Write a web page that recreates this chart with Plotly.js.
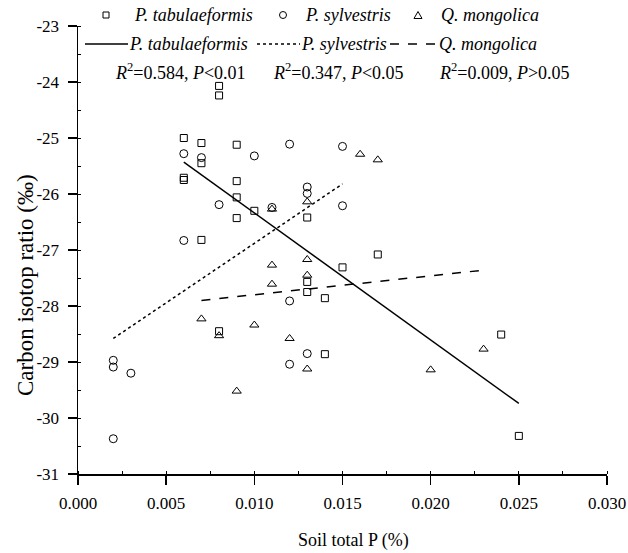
<!DOCTYPE html>
<html>
<head>
<meta charset="utf-8">
<script src="https://cdn.plot.ly/plotly-3.0.1.min.js"></script>
<style>html,body{margin:0;padding:0;background:#fff;}#chart{width:628px;height:553px;}</style>
</head>
<body>
<div id="chart"></div>
<script>
// P. tabulaeformis (squares)
const ptX = [0.006,0.007,0.009,0.007,0.006,0.006,0.009,0.009,0.010,0.009,0.013,0.007,0.013,0.013,0.014,0.008,0.008,0.017,0.015,0.008,0.014,0.024,0.025];
const ptY = [-25.00,-25.09,-25.12,-25.45,-25.71,-25.75,-25.77,-26.06,-26.30,-26.43,-26.42,-26.82,-27.57,-27.75,-27.86,-24.07,-24.24,-27.08,-27.31,-28.45,-28.86,-28.51,-30.32];
// P. sylvestris (circles)
const psX = [0.006,0.007,0.010,0.012,0.013,0.013,0.008,0.011,0.006,0.012,0.015,0.015,0.013,0.012,0.002,0.002,0.003,0.002];
const psY = [-25.28,-25.35,-25.32,-25.11,-25.875,-25.99,-26.19,-26.24,-26.83,-27.91,-25.15,-26.21,-28.85,-29.04,-28.97,-29.09,-29.20,-30.37];
// Q. mongolica (triangles)
const qmX = [0.011,0.013,0.011,0.013,0.013,0.011,0.016,0.017,0.007,0.008,0.010,0.012,0.013,0.009,0.023,0.020];
const qmY = [-26.27,-26.14,-27.27,-27.17,-27.45,-27.61,-25.29,-25.39,-28.23,-28.53,-28.34,-28.58,-29.125,-29.52,-28.77,-29.14];
// fitted lines (endpoints)
const ptFitX = [0.006, 0.025], ptFitY = [-25.43, -29.74];
const psFitX = [0.002, 0.015], psFitY = [-28.58, -25.82];
const qmFitX = [0.007, 0.023], qmFitY = [-27.90, -27.36];
// labels
const seriesNames = ['<i>P. tabulaeformis</i>', '<i>P. sylvestris</i>', '<i>Q. mongolica</i>'];
const statLabels = ['<i>R</i><sup>2</sup>=0.584, <i>P</i>&lt;0.01', '<i>R</i><sup>2</sup>=0.347, <i>P</i>&lt;0.05', '<i>R</i><sup>2</sup>=0.009, <i>P</i>&gt;0.05'];
const xTitle = 'Soil total P (%)';
const yTitle = 'Carbon isotop ratio (‰)';
const xTickVals = [0, 0.005, 0.010, 0.015, 0.020, 0.025, 0.030];
const xTickText = ['0.000','0.005','0.010','0.015','0.020','0.025','0.030'];
const yTickVals = [-31,-30,-29,-28,-27,-26,-25,-24,-23];
const yTickText = ['-31','-30','-29','-28','-27','-26','-25','-24','-23'];

const FONT = '"Liberation Serif", "Times New Roman", serif';
const W = 628, H = 553, ML = 78, MR = 21, MT = 26, MB = 79;
const PW = W - ML - MR, PH = H - MT - MB;
const PX = p => (p - ML) / PW;          // pixel -> paper x
const PY = p => (H - MB - p) / PH;      // pixel -> paper y

const mk = (sym, size) => ({symbol: sym, size: size, color: '#000', line: {color: '#000', width: 1}});

const data = [
  {x: ptX, y: ptY, type: 'scatter', mode: 'markers', name: 'P. tabulaeformis', marker: mk('square-open', 7)},
  {x: psX, y: psY, type: 'scatter', mode: 'markers', name: 'P. sylvestris', marker: mk('circle-open', 8)},
  {x: qmX, y: qmY, type: 'scatter', mode: 'markers', name: 'Q. mongolica', marker: mk('triangle-up-open', 8)},
  {x: ptFitX, y: ptFitY, type: 'scatter', mode: 'lines', name: 'fit P. tabulaeformis', line: {color: '#000', width: 1.5, dash: 'solid'}},
  {x: psFitX, y: psFitY, type: 'scatter', mode: 'lines', name: 'fit P. sylvestris', line: {color: '#000', width: 1.5, dash: 'dot'}},
  {x: qmFitX, y: qmFitY, type: 'scatter', mode: 'lines', name: 'fit Q. mongolica', line: {color: '#000', width: 1.5, dash: 'dash'}}
];

// manual legend keys (paper coordinates)
const row1 = 15, row2 = 44, row3 = 71;
const sh = [];
const ln = {color: '#000', width: 1};
sh.push({type: 'rect', xref: 'paper', yref: 'paper', x0: PX(103), x1: PX(109), y0: PY(row1 + 3), y1: PY(row1 - 3), line: ln});
sh.push({type: 'circle', xref: 'paper', yref: 'paper', x0: PX(279.5), x1: PX(286.5), y0: PY(row1 + 3.5), y1: PY(row1 - 3.5), line: ln});
sh.push({type: 'path', xref: 'paper', yref: 'paper',
  path: `M ${PX(414)} ${PY(row1 + 3.5)} L ${PX(422)} ${PY(row1 + 3.5)} L ${PX(418)} ${PY(row1 - 3.5)} Z`, line: ln});
const keyLines = [[85, 128, 'solid'], [257, 300, 'dot'], [390, 438, 'dash']];
keyLines.forEach(k => sh.push({type: 'line', xref: 'paper', yref: 'paper', x0: PX(k[0]), x1: PX(k[1]), y0: PY(row2), y1: PY(row2), line: {color: '#000', width: 1.5, dash: k[2]}}));

const ann = [];
const row1X = [132, 303, 439], row2X = [127, 299, 437], row3X = [180, 338, 504];
seriesNames.forEach((t, i) => {
  ann.push({text: t, xref: 'paper', yref: 'paper', x: PX(row1X[i]), y: PY(row1), xanchor: 'left', yanchor: 'middle', showarrow: false, font: {family: FONT, size: 18}});
  ann.push({text: t, xref: 'paper', yref: 'paper', x: PX(row2X[i]), y: PY(row2), xanchor: 'left', yanchor: 'middle', showarrow: false, font: {family: FONT, size: 18}});
});
statLabels.forEach((t, i) => {
  ann.push({text: t, xref: 'paper', yref: 'paper', x: PX(row3X[i]), y: PY(row3), xanchor: 'center', yanchor: 'middle', showarrow: false, font: {family: FONT, size: 18}});
});
// axis titles (placed as in the reference, slightly off-centre)
ann.push({text: xTitle, xref: 'paper', yref: 'paper', x: PX(353), y: PY(540), xanchor: 'center', yanchor: 'middle', showarrow: false, font: {family: FONT, size: 18}});
ann.push({text: yTitle, xref: 'paper', yref: 'paper', x: PX(25), y: PY(285), xanchor: 'center', yanchor: 'middle', textangle: -90, showarrow: false, font: {family: FONT, size: 23}});

const layout = {
  width: W, height: H,
  margin: {l: ML, r: MR, t: MT, b: MB},
  paper_bgcolor: '#fff', plot_bgcolor: '#fff',
  font: {family: FONT, size: 17, color: '#000'},
  showlegend: false,
  xaxis: {
    range: [0, 0.030], tickvals: xTickVals, ticktext: xTickText,
    showline: true, linecolor: '#000', linewidth: 1.5, mirror: false,
    ticks: 'outside', ticklen: 9, tickwidth: 1.5, tickcolor: '#000', ticklabelstandoff: 4,
    minor: {ticks: 'inside', ticklen: 3, tickwidth: 1, tickcolor: '#000', dtick: 0.0025, tick0: 0},
    showgrid: false, zeroline: false,
    tickfont: {family: FONT, size: 17}
  },
  yaxis: {
    range: [-31, -23], tickvals: yTickVals, ticktext: yTickText,
    showline: true, linecolor: '#000', linewidth: 1.5, mirror: false,
    ticks: 'outside', ticklen: 9, tickwidth: 1.5, tickcolor: '#000', ticklabelstandoff: 5,
    minor: {ticks: 'inside', ticklen: 3, tickwidth: 1, tickcolor: '#000', dtick: 0.5, tick0: -31},
    showgrid: false, zeroline: false,
    tickfont: {family: FONT, size: 17}
  },
  shapes: sh,
  annotations: ann
};

Plotly.newPlot('chart', data, layout, {displayModeBar: false, staticPlot: true});
</script>
</body>
</html>
